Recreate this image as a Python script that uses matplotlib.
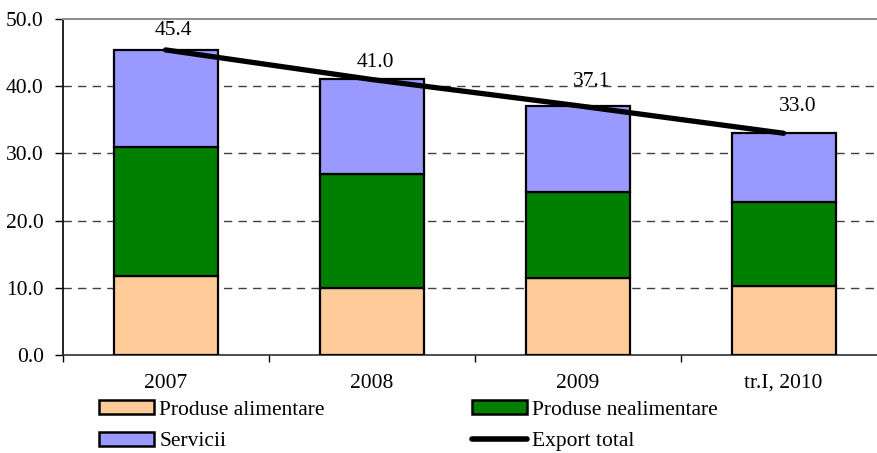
import matplotlib
matplotlib.use("Agg")
import matplotlib.pyplot as plt
from matplotlib.patches import Patch
from matplotlib.lines import Line2D
import numpy as np

plt.rcParams['font.family'] = ['Liberation Serif', 'DejaVu Serif']

categories = ["2007", "2008", "2009", "tr.I, 2010"]
alimentare = [11.7, 9.9, 11.4, 10.2]
nealimentare = [19.2, 17.0, 12.9, 12.5]
servicii = [14.5, 14.1, 12.8, 10.3]
export_total = [45.4, 41.0, 37.1, 33.0]
y_ticks = [0, 10, 20, 30, 40, 50]

col_alim = "#FFCC99"
col_nealim = "#008000"
col_serv = "#9999FF"

W, H = 877, 453
fig = plt.figure(figsize=(W / 100, H / 100), dpi=100)
# plot area: left spine at x=62.6 px, category width ~206 px (right edge past the figure)
ax = fig.add_axes([62.6 / W, 1 - 355 / H, 824 / W, (355 - 19) / H])

x = np.arange(len(categories))
bw = 0.505
kw = dict(width=bw, edgecolor="black", linewidth=1.6, zorder=3)
ax.bar(x, alimentare, color=col_alim, **kw)
b1 = np.array(alimentare)
ax.bar(x, nealimentare, bottom=b1, color=col_nealim, **kw)
b2 = b1 + np.array(nealimentare)
ax.bar(x, servicii, bottom=b2, color=col_serv, **kw)

ax.plot(x, export_total, color="black", linewidth=3.8, solid_capstyle="round", zorder=4)

# value labels above the total line (offsets in pixels)
label_offsets = [(8, 19), (4, 17), (14, 24), (14, 27)]
for xi, v, (dx, dy) in zip(x, export_total, label_offsets):
    ax.annotate(f"{v:.1f}", (xi, v), xytext=(dx * 0.72, dy * 0.72), textcoords="offset points",
                ha="center", va="center", fontsize=15.5, zorder=5)

ax.set_xlim(-0.5, len(categories) - 0.5)
ax.set_ylim(0, 50)
ax.set_yticks(y_ticks)
ax.set_yticklabels([f"{t:.1f}" for t in y_ticks])
ax.set_xticks(x)
ax.set_xticklabels(categories)
ax.set_xticks(np.arange(len(categories) + 1) - 0.5, minor=True)

ax.tick_params(axis="x", which="major", length=0, pad=13.5, labelsize=15.5)
ax.tick_params(axis="x", which="minor", length=5, width=1, direction="out", color="black")
ax.tick_params(axis="y", length=5.5, width=1, direction="out", pad=8, labelsize=15.5, color="black")

for yv in y_ticks[1:-1]:
    ax.axhline(yv, color="#404040", linewidth=1.0, linestyle=(0, (6, 4.5)), zorder=1)

ax.spines["left"].set_color("black")
ax.spines["left"].set_linewidth(1.2)
ax.spines["bottom"].set_color("#303030")
ax.spines["bottom"].set_linewidth(1.2)
ax.spines["top"].set_color("#909090")
ax.spines["top"].set_linewidth(1.5)
ax.spines["right"].set_visible(False)

handles = [
    Patch(facecolor=col_alim, edgecolor="black", linewidth=1.8, label="Produse alimentare"),
    Patch(facecolor=col_serv, edgecolor="black", linewidth=1.8, label="Servicii"),
    Patch(facecolor=col_nealim, edgecolor="black", linewidth=1.8, label="Produse nealimentare"),
    Line2D([], [], color="black", linewidth=4, solid_capstyle="round", label="Export total"),
]
fig.legend(handles=handles, ncol=2, loc="upper left", bbox_to_anchor=(99 / W, 1 - 400 / H),
           frameon=False, fontsize=15.5, handlelength=2.55, handleheight=0.62,
           handletextpad=0.25, columnspacing=6.83, labelspacing=0.57, borderaxespad=0,
           borderpad=0)

fig.savefig("out.png", dpi=100)
